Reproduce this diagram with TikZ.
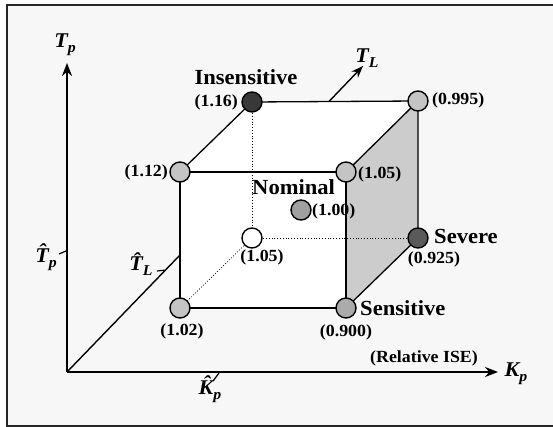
\documentclass[tikz,border=0pt]{standalone}
\usepackage{fontspec}
\setmainfont{Liberation Serif}[FakeStretch=1.05]
\usetikzlibrary{arrows.meta}
\definecolor{bgc}{HTML}{F7F7F7}
\definecolor{lightc}{HTML}{C4C4C4}
\definecolor{darkc}{HTML}{383838}
\definecolor{sevc}{HTML}{5A5A5A}
\definecolor{nomc}{HTML}{A0A0A0}
\definecolor{senc}{HTML}{ABABAB}
\definecolor{facec}{HTML}{CCCCCC}
\tikzset{
  dotnode/.style={circle, draw, line width=1.4pt, minimum size=20pt, inner sep=0pt},
  numlab/.style={font=\fontsize{17}{18}\selectfont\bfseries, inner sep=0pt},
  namelab/.style={font=\fontsize{21.5}{22}\selectfont\bfseries, inner sep=0pt},
  cubeedge/.style={line width=1.3pt},
  hidedge/.style={dotted, line width=0.8pt},
  axisline/.style={line width=1.8pt},
  axarrow/.style={axisline, -{Stealth[length=13pt,width=10pt]}},
  axlab/.style={font=\fontsize{21}{22}\selectfont\bfseries\itshape, inner sep=0pt},
  leadline/.style={line width=1.2pt}
}
\newcommand{\sbs}[1]{\raisebox{-5pt}{\fontsize{15}{15}\selectfont #1}}
\begin{document}
\begin{tikzpicture}[x=1pt,y=-1pt]
\useasboundingbox (0,0) rectangle (553,427);
\fill[bgc] (7,5) rectangle (553,426);
\draw[line width=1.5pt, black!85] (553,5) -- (7,5) -- (7,426) -- (553,426);
% cube corners
\coordinate (A) at (180,172);
\coordinate (B) at (346,172);
\coordinate (C) at (180,308);
\coordinate (D) at (346,308);
\coordinate (E) at (252,102);
\coordinate (F) at (418,101);
\coordinate (G) at (252,238);
\coordinate (H) at (418,238);
% faces
\fill[white] (A) -- (E) -- (F) -- (B) -- (D) -- (C) -- cycle;
\fill[facec] (B) -- (F) -- (H) -- (D) -- cycle;
% axes
\coordinate (O) at (67,372);
\coordinate (tp) at (67,63);
\coordinate (kp) at (498,372);
\coordinate (L1) at (180,255);
\coordinate (L2) at (329,101.5);
\coordinate (tl) at (363,66);
\draw[axarrow] (O) -- (tp);
\draw[axarrow] (O) -- (kp);
\draw[line width=1.4pt] (O) -- (L1);
\draw[line width=1.4pt, -{Stealth[length=12pt,width=9pt]}] (L2) -- (tl);
% hidden edges
\draw[hidedge] (E) -- (G);
\draw[hidedge] (G) -- (H);
\draw[hidedge] (G) -- (C);
% visible edges
\draw[cubeedge] (A) -- (B) -- (D) -- (C) -- cycle;
\draw[cubeedge] (A) -- (E) -- (F) -- (B);
\draw[cubeedge] (F) -- (H) -- (D);
% points
\node[dotnode, fill=lightc] (a) at (A) {};
\node[dotnode, fill=lightc] (b) at (B) {};
\node[dotnode, fill=lightc] (c) at (C) {};
\node[dotnode, fill=senc] (d) at (D) {};
\node[dotnode, fill=darkc] (e) at (E) {};
\node[dotnode, fill=lightc] (f) at (F) {};
\node[dotnode, fill=white] (g) at (G) {};
\node[dotnode, fill=sevc] (h) at (H) {};
\node[dotnode, fill=nomc] (n) at (301,210) {};
% labels
\node[namelab] (linsens) at (246,77) {Insensitive};
\node[numlab, anchor=east] (l116) at (238,102) {(1.16)};
\node[numlab, anchor=east] (l112) at (168,172) {(1.12)};
\node[numlab, anchor=west] (l0995) at (432,100) {(0.995)};
\node[numlab, anchor=west] (l105a) at (358,174) {(1.05)};
\node[namelab, anchor=west] (lnom) at (252,187) {Nominal};
\node[numlab, anchor=west] (l100) at (312,211) {(1.00)};
\node[numlab] (l105b) at (262,257) {(1.05)};
\node[numlab] (l102) at (182,331) {(1.02)};
\node[namelab, anchor=west] (lsev) at (434,236) {Severe};
\node[numlab] (l0925) at (434,259) {(0.925)};
\node[namelab, anchor=west] (lsen) at (360,308) {Sensitive};
\node[numlab] (l0900) at (346,332) {(0.900)};
\node[numlab] (lise) at (424,358) {(Relative ISE)};
% axis labels
\node[axlab] (ltp) at (65,45) {T\sbs{p}};
\node[axlab] (ltl) at (367,58) {T\sbs{L}};
\node[axlab] (lkp) at (516,374) {K\sbs{p}};
\node[axlab] (lhtp) at (46,257) {\^{T}\sbs{p}};
\node[axlab] (lhtl) at (141,264) {\^{T}\sbs{L}};
\node[axlab] (lhkp) at (210,389) {\^{K}\sbs{p}};
% leaders
\coordinate (d1a) at (59,254);
\coordinate (d1b) at (66,251);
\coordinate (d2a) at (157,271);
\coordinate (d2b) at (166,270);
\coordinate (d3a) at (213,381);
\coordinate (d3b) at (219,373);
\draw[leadline] (d1a) -- (d1b);
\draw[leadline] (d2a) -- (d2b);
\draw[leadline] (d3a) -- (d3b);
\end{tikzpicture}
\end{document}
